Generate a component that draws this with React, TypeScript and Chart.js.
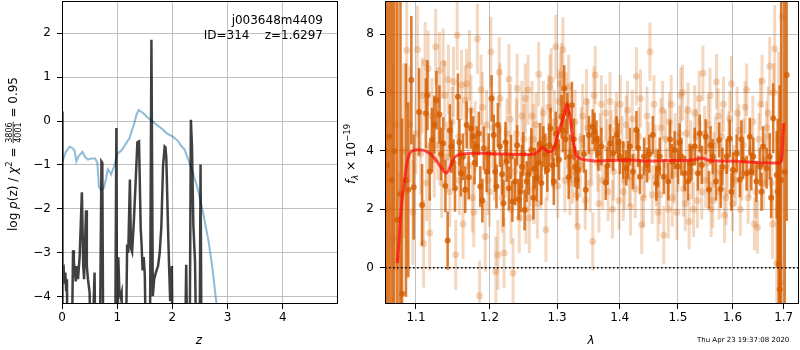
import React, { useEffect, useRef } from "react";
import { Chart, registerables } from "chart.js";
Chart.register(...registerables);

const FONT = '"DejaVu Sans", sans-serif';

// ---------------- left panel: redshift probability ----------------
const zValues = [
  0, 0.005, 0.012, 0.03, 0.045,
  0.06, 0.075, 0.09, 0.1, 0.17,
  0.2, 0.215, 0.23, 0.25, 0.27,
  0.29, 0.32, 0.36, 0.385, 0.4,
  0.435, 0.45, 0.47, 0.5, 0.53,
  0.59, 0.61, 0.68, 0.715, 0.73,
  0.75, 0.96, 0.985, 1.0, 1.02,
  1.04, 1.06, 1.08, 1.1, 1.15,
  1.18, 1.2, 1.23, 1.25, 1.27,
  1.3, 1.33, 1.366, 1.395, 1.426,
  1.44, 1.46, 1.48, 1.5, 1.53,
  1.59, 1.62, 1.645, 1.67, 1.7,
  1.74, 1.77, 1.8, 1.83, 1.86,
  1.875, 1.89, 1.92, 1.94, 1.96,
  1.99, 2.01, 2.22, 2.25, 2.28,
  2.31, 2.335, 2.355, 2.38, 2.41,
  2.44, 2.49, 2.51, 2.53, 5.0,
];
const logPz = [
  -6, 0.22, -3.4, -3.35, -3.7,
  -3.45, -3.85, -3.6, -6, -6,
  -2.94, -3.5, -3.4, -3.65, -3.3,
  -3.6, -3.08, -1.62, -3.3, -3.6,
  -2.03, -3.3, -3.6, -3.9, -6,
  -3.45, -6, -6, -0.92, -0.95,
  -6, -6, -0.16, -6, -3.1,
  -3.9, -4.0, -3.9, -6, -6,
  -2.81, -3.0, -1.33, -2.9, -2.98,
  -2.33, -1.5, -0.48, -0.46, -2.45,
  -2.76, -3.4, -3.1, -3.5, -6,
  -6, 1.85, -3.99, -3.6, -3.45,
  -3.3, -3.0, -2.4, -1.03, -0.58,
  -0.6, -0.85, -2.4, -3.3, -4.1,
  -3.3, -6, -6, -3.27, -6,
  -6, 0.03, -0.6, -2.39, -3.2,
  -6, -6, -0.99, -6, -6,
];
const chiZ = [
  0.0, 0.02, 0.07, 0.14, 0.2,
  0.23, 0.26, 0.3, 0.37, 0.42,
  0.47, 0.53, 0.6, 0.64, 0.67,
  0.7, 0.76, 0.8, 0.83, 0.86,
  0.89, 0.95, 1.01, 1.07, 1.13,
  1.19, 1.22, 1.27, 1.31, 1.35,
  1.39, 1.45, 1.5, 1.55, 1.62,
  1.68, 1.75, 1.83, 1.9, 2.0,
  2.1, 2.15, 2.22, 2.28, 2.35,
  2.45, 2.55, 2.65, 2.72, 2.78,
  2.81,
];
const chiCurve = [
  -0.95, -0.88, -0.7, -0.58, -0.63,
  -0.68, -0.92, -0.8, -0.7, -0.82,
  -0.88, -0.85, -0.85, -0.95, -1.5,
  -1.56, -1.52, -1.3, -1.1, -1.15,
  -1.22, -1.0, -0.73, -0.68, -0.57,
  -0.45, -0.4, -0.2, -0.05, 0.15,
  0.25, 0.2, 0.15, 0.08, 0.02,
  -0.05, -0.12, -0.2, -0.28, -0.35,
  -0.45, -0.55, -0.65, -0.85, -1.1,
  -1.5, -2.05, -2.7, -3.3, -3.95,
  -4.3,
];
const zTicks = [0, 1, 2, 3, 4];
const logPTicks = [-4, -3, -2, -1, 0, 1, 2];
const Z_MIN = 0;
const Z_MAX = 5;
const LOGP_MIN = -4.166;
const LOGP_MAX = 2.734;

// ---------------- right panel: spectrum ----------------
const modelLam = [
  1.0759, 1.078, 1.080, 1.082, 1.0845,
  1.088, 1.092, 1.097, 1.103, 1.109,
  1.114, 1.12, 1.126, 1.132, 1.137,
  1.1395, 1.143, 1.147, 1.151, 1.156,
  1.162, 1.17, 1.18, 1.19, 1.2,
  1.21, 1.22, 1.23, 1.24, 1.25,
  1.26, 1.268, 1.273, 1.277, 1.281,
  1.2865, 1.291, 1.295, 1.299, 1.303,
  1.307, 1.311, 1.3156, 1.319, 1.322,
  1.326, 1.3315, 1.3477, 1.36, 1.38,
  1.4, 1.42, 1.44, 1.46, 1.48,
  1.5, 1.52, 1.535, 1.542, 1.549,
  1.556, 1.57, 1.59, 1.61, 1.63,
  1.65, 1.67, 1.685, 1.6925, 1.697,
  1.6985, 1.7,
];
const modelFlux = [
  0.16, 0.9, 1.7, 2.3, 2.8,
  3.55, 3.92, 4.02, 4.04, 4.03,
  3.98, 3.88, 3.7, 3.48, 3.3,
  3.24, 3.32, 3.55, 3.76, 3.86,
  3.9, 3.91, 3.92, 3.92, 3.91,
  3.9, 3.9, 3.89, 3.88, 3.88,
  3.88, 3.92, 4.02, 4.12, 4.07,
  3.97, 3.98, 4.1, 4.35, 4.7,
  4.95, 5.25, 5.62, 5.3, 4.8,
  4.2, 3.8, 3.69, 3.66, 3.67,
  3.68, 3.68, 3.66, 3.66, 3.67,
  3.67, 3.68, 3.72, 3.76, 3.73,
  3.67, 3.66, 3.66, 3.65, 3.62,
  3.6, 3.59, 3.59, 3.6, 3.9,
  4.5, 4.95,
];

const darkLam = [
  1.060, 1.063, 1.066, 1.069, 1.072,
  1.076, 1.080, 1.082, 1.087, 1.090,
  1.094, 1.097, 1.104, 1.108, 1.113,
  1.115, 1.121, 1.127, 1.131, 1.136,
  1.142, 1.147, 1.152, 1.156, 1.160,
  1.166, 1.168, 1.174, 1.177, 1.182,
  1.187, 1.192, 1.196, 1.203, 1.206,
  1.210, 1.215, 1.220, 1.225, 1.228,
  1.233, 1.237, 1.242, 1.247, 1.251,
  1.254, 1.261, 1.266, 1.269, 1.274,
  1.279, 1.285, 1.290, 1.295, 1.300,
  1.307, 1.311, 1.316, 1.320, 1.323,
  1.328, 1.333, 1.345, 1.350, 1.356,
  1.359, 1.365, 1.370, 1.377, 1.384,
  1.389, 1.395, 1.400, 1.406, 1.411,
  1.417, 1.422, 1.428, 1.434, 1.441,
  1.446, 1.456, 1.462, 1.468, 1.475,
  1.483, 1.489, 1.494, 1.500, 1.506,
  1.512, 1.518, 1.524, 1.530, 1.536,
  1.543, 1.550, 1.556, 1.563, 1.569,
  1.575, 1.581, 1.589, 1.595, 1.601,
  1.608, 1.614, 1.620, 1.627, 1.633,
  1.640, 1.646, 1.653, 1.659, 1.666,
  1.672, 1.679, 1.686, 1.688, 1.690,
  1.692, 1.695, 1.702, 1.706, 1.118,
  1.124, 1.133, 1.139, 1.145, 1.150,
  1.158, 1.163, 1.171, 1.179, 1.185,
  1.190, 1.199, 1.208, 1.212, 1.218,
  1.223, 1.231, 1.240, 1.245, 1.249,
  1.257, 1.264, 1.271, 1.276, 1.282,
  1.288, 1.293, 1.298, 1.303, 1.309,
  1.313, 1.318, 1.326, 1.331, 1.342,
  1.362, 1.380, 1.398, 1.414, 1.431,
  1.450, 1.465, 1.486, 1.503, 1.521,
  1.539, 1.559, 1.578, 1.598, 1.617,
  1.636, 1.656, 1.675,
];
const darkFlux = [
  4.0, 3.5, 4.5, 3.0, 4.0,
  1.64, 2.53, -0.89, 3.0, 2.67,
  6.43, 2.76, 5.34, 2.15, 5.29,
  5.91, 4.38, 5.74, 5.25, 4.26,
  0.93, 4.15, 2.72, 5.86, 3.24,
  2.67, 4.89, 4.77, 4.49, 4.15,
  2.78, 4.09, 3.29, 5.80, 4.55,
  2.78, 4.15, 2.21, 3.64, 2.72,
  2.27, 2.95, 2.35, 3.46, 1.98,
  2.95, 4.03, 3.41, 3.07, 4.26,
  4.15, 3.35, 4.77, 2.95, 4.15,
  5.17, 6.14, 5.29, 3.81, 5.57,
  3.46, 3.35, 2.67, 4.55, 4.83,
  4.66, 3.92, 4.15, 2.92, 4.26,
  3.92, 4.55, 3.81, 3.69, 3.41,
  4.15, 3.29, 4.72, 3.12, 3.81,
  3.52, 4.55, 2.89, 3.81, 3.12,
  2.95, 3.64, 4.03, 3.46, 3.81,
  3.24, 2.95, 3.58, 4.15, 3.24,
  3.52, 4.49, 2.67, 3.81, 2.95,
  4.38, 3.46, 3.81, 4.43, 3.35,
  3.92, 3.01, 3.69, 3.24, 4.49,
  3.81, 2.95, 3.46, 4.15, 3.41,
  3.81, 5.12, 3.18, 2.61, 0.10,
  -0.75, 3.0, 3.29, 6.6, 3.3,
  4.9, 3.9, 2.8, 4.7, 3.6,
  4.3, 3.8, 3.1, 3.6, 4.6,
  2.3, 3.9, 3.3, 4.9, 3.2,
  4.3, 3.8, 4.2, 2.6, 3.9,
  3.2, 2.4, 3.6, 2.9, 3.9,
  4.2, 3.5, 4.6, 3.7, 4.7,
  4.4, 3.1, 4.4, 3.0, 3.9,
  4.4, 3.5, 4.3, 3.7, 4.1,
  3.9, 3.4, 4.4, 4.3, 3.6,
  4.6, 4.2, 2.7, 2.6, 4.4,
  3.3, 2.6, 2.4,
];
const darkErr = [
  12, 12, 12, 12, 12,
  10, 8, 6, 4, 3,
  2.2, 1.8, 1.5, 1.4, 1.2,
  1.2, 1.1, 1.0, 1.0, 0.9,
  1.0, 0.9, 0.8, 0.8, 0.8,
  0.8, 0.8, 0.7, 0.7, 0.7,
  0.7, 0.75, 0.7, 0.8, 0.7,
  0.75, 0.7, 0.8, 0.7, 0.75,
  0.7, 0.8, 0.7, 0.75, 0.7,
  0.7, 0.75, 0.7, 0.8, 0.7,
  0.7, 0.75, 0.7, 0.8, 0.7,
  0.75, 0.8, 0.7, 0.75, 0.8,
  0.7, 0.65, 0.7, 0.65, 0.6,
  0.65, 0.6, 0.65, 0.6, 0.65,
  0.6, 0.65, 0.6, 0.65, 0.6,
  0.65, 0.6, 0.65, 0.6, 0.65,
  0.6, 0.65, 0.6, 0.65, 0.6,
  0.65, 0.6, 0.65, 0.6, 0.65,
  0.6, 0.65, 0.6, 0.65, 0.6,
  0.65, 0.6, 0.65, 0.6, 0.65,
  0.6, 0.65, 0.6, 0.65, 0.6,
  0.65, 0.6, 0.65, 0.6, 0.65,
  0.65, 0.7, 0.65, 0.7, 0.7,
  0.8, 1.2, 1.5, 2.5, 4,
  7, 10, 6, 5, 1.0,
  1.0, 0.9, 0.9, 0.9, 0.8,
  0.8, 0.8, 0.75, 0.75, 0.75,
  0.75, 0.7, 0.7, 0.75, 0.7,
  0.7, 0.75, 0.7, 0.7, 0.75,
  0.7, 0.75, 0.7, 0.75, 0.7,
  0.75, 0.7, 0.75, 0.7, 0.75,
  0.7, 0.75, 0.7, 0.7, 0.65,
  0.65, 0.65, 0.65, 0.65, 0.65,
  0.65, 0.65, 0.65, 0.65, 0.65,
  0.65, 0.65, 0.65, 0.65, 0.65,
  0.65, 0.65, 0.7,
];

const lightLam = [
  1.061, 1.064, 1.068, 1.071, 1.074,
  1.078, 1.084, 1.088, 1.092, 1.096,
  1.102, 1.106, 1.110, 1.112, 1.116,
  1.118, 1.124, 1.126, 1.131, 1.134,
  1.138, 1.143, 1.145, 1.150, 1.153,
  1.155, 1.158, 1.161, 1.163, 1.166,
  1.170, 1.172, 1.176, 1.180, 1.183,
  1.186, 1.190, 1.194, 1.198, 1.202,
  1.205, 1.209, 1.212, 1.215, 1.218,
  1.221, 1.225, 1.228, 1.231, 1.234,
  1.237, 1.240, 1.243, 1.247, 1.250,
  1.253, 1.256, 1.259, 1.262, 1.265,
  1.268, 1.272, 1.275, 1.279, 1.283,
  1.287, 1.291, 1.294, 1.298, 1.301,
  1.305, 1.309, 1.312, 1.316, 1.320,
  1.324, 1.328, 1.332, 1.336, 1.340,
  1.344, 1.348, 1.352, 1.356, 1.360,
  1.364, 1.368, 1.372, 1.377, 1.381,
  1.386, 1.390, 1.395, 1.399, 1.404,
  1.408, 1.413, 1.418, 1.423, 1.428,
  1.432, 1.437, 1.442, 1.446, 1.451,
  1.455, 1.460, 1.465, 1.470, 1.475,
  1.480, 1.485, 1.490, 1.495, 1.500,
  1.505, 1.510, 1.515, 1.520, 1.525,
  1.530, 1.535, 1.540, 1.545, 1.550,
  1.555, 1.560, 1.565, 1.570, 1.575,
  1.580, 1.585, 1.590, 1.595, 1.600,
  1.606, 1.612, 1.618, 1.624, 1.630,
  1.636, 1.642, 1.648, 1.654, 1.660,
  1.666, 1.672, 1.678, 1.682, 1.686,
  1.690, 1.694, 1.697, 1.100, 1.108,
  1.114, 1.121, 1.129, 1.136, 1.141,
  1.148, 1.157, 1.168, 1.174, 1.178,
  1.188, 1.196, 1.200, 1.207, 1.214,
  1.223, 1.230, 1.239, 1.245, 1.252,
  1.258, 1.264, 1.270, 1.277, 1.285,
  1.289, 1.296, 1.303, 1.307, 1.314,
  1.318, 1.322, 1.330, 1.338, 1.346,
  1.354, 1.358, 1.366, 1.370, 1.379,
  1.384, 1.388, 1.393, 1.401, 1.406,
  1.411, 1.416, 1.421, 1.426, 1.435,
  1.440, 1.449, 1.458, 1.462, 1.468,
  1.473, 1.478, 1.483, 1.488, 1.493,
  1.498, 1.503, 1.508, 1.513, 1.518,
  1.523, 1.528, 1.533, 1.538, 1.543,
  1.548, 1.553, 1.558, 1.563, 1.568,
  1.573, 1.578, 1.583, 1.588, 1.593,
  1.598, 1.603, 1.609, 1.615, 1.621,
  1.627, 1.633, 1.639, 1.645, 1.651,
  1.657, 1.663, 1.669, 1.675, 1.680,
];
const lightFlux = [
  5.0, 2.0, 6.0, 1.0, 4.9,
  0.3, 4.0, 7.45, 4.9, 1.9,
  7.48, 3.9, 0.82, 7.02, 6.83,
  1.19, 3.7, 7.57, 6.77, 2.9,
  5.9, 6.45, 2.6, 6.37, 0.44,
  7.97, 3.0, 6.26, 1.5, 5.74,
  3.5, 6.94, 2.4, 4.5, 7.85,
  -0.96, 5.5, 1.07, 3.0, 7.4,
  4.8, -0.13, 0.44, 5.8, 2.4,
  0.5, 4.6, 6.46, 2.0, -0.18,
  3.3, 6.14, 1.7, 5.2, 4.4,
  2.0, 6.1, 3.3, 5.2, 2.7,
  4.9, 6.63, 3.1, 5.3, 1.3,
  5.5, 6.43, 3.8, 7.57, 2.8,
  6.3, 7.48, 3.0, 4.5, 2.9,
  3.3, 5.0, 1.41, 3.5, 5.2,
  2.3, 4.8, 2.9, 0.9, 6.6,
  3.6, 4.3, 3.0, 5.3, 2.6,
  4.4, 3.3, 5.0, 2.3, 4.2,
  3.0, 5.4, 2.1, 3.8, 6.56,
  4.5, 1.47, 3.4, 5.2, 7.4,
  2.5, 3.9, 1.9, 4.8, 1.11,
  3.1, 5.0, 2.4, 4.3, 3.6,
  5.91, 2.7, 4.6, 1.58, 3.3,
  5.3, 2.3, 4.1, 6.66, 3.0,
  4.9, 2.0, 3.7, 6.37, 2.6,
  4.5, 1.8, 3.4, 5.1, 2.2,
  3.0, 4.7, 3.2, 5.5, 2.4,
  4.0, 1.5, 1.39, 5.6, 2.9,
  4.8, 6.9, 1.5, 7.5, 0.16,
  4.4, -0.5, 8.6, 4.6, 5.9,
  2.9, 5.2, 4.2, 7.0, 3.8,
  5.0, 4.5, 6.3, 5.4, 1.9,
  6.1, 4.9, 2.6, 3.5, 6.7,
  3.6, 5.1, 4.6, 2.8, 5.8,
  1.7, 4.4, 2.2, 4.4, 3.4,
  6.2, 5.0, 5.7, 6.6, 5.6,
  6.2, 4.0, 2.5, 4.4, 5.7,
  4.0, 5.9, 2.2, 5.6, 4.1,
  5.7, 2.0, 4.7, 5.6, 2.6,
  4.9, 3.1, 5.1, 2.7, 5.8,
  2.4, 4.0, 5.6, 3.1, 2.5,
  5.4, 4.4, 2.0, 5.6, 3.2,
  1.9, 4.6, 6.0, 2.2, 5.4,
  4.1, 2.0, 4.5, 5.8, 2.6,
  4.6, 3.6, 5.9, 2.3, 4.2,
  5.2, 3.3, 5.6, 2.4, 4.4,
  6.3, 3.3, 5.3, 2.0, 4.2,
  6.1, 3.3, 5.0, 2.6, 4.4,
  6.4, 3.7, 5.3, 2.9, 6.0,
];
const lightErr = [
  6, 7, 6, 6, 5,
  3, 3, 2, 2, 1.8,
  1.5, 1.4, 1.5, 1.4, 1.3,
  1.3, 1.3, 1.3, 1.3, 1.2,
  1.2, 1.2, 1.2, 1.2, 1.2,
  1.2, 1.2, 1.2, 1.2, 1.2,
  1.2, 1.2, 1.2, 1.2, 1.2,
  1.2, 1.2, 1.2, 1.2, 1.2,
  1.2, 1.2, 1.2, 1.2, 1.2,
  1.2, 1.2, 1.2, 1.2, 1.2,
  1.2, 1.2, 1.2, 1.2, 1.2,
  1.2, 1.2, 1.2, 1.2, 1.2,
  1.1, 1.1, 1.1, 1.1, 1.1,
  1.1, 1.1, 1.1, 1.1, 1.1,
  1.1, 1.1, 1.1, 1.1, 1.1,
  1.1, 1.1, 1.1, 1.1, 1.1,
  1.0, 1.0, 1.0, 1.0, 1.0,
  1.0, 1.0, 1.0, 1.0, 1.0,
  1.0, 1.0, 1.0, 1.0, 1.0,
  1.0, 1.0, 1.0, 1.0, 1.0,
  1.0, 1.0, 1.0, 1.0, 1.0,
  1.0, 1.0, 1.0, 1.0, 1.0,
  1.0, 1.0, 1.0, 1.0, 1.0,
  0.95, 0.95, 0.95, 0.95, 0.95,
  0.95, 0.95, 0.95, 0.95, 0.95,
  0.95, 0.95, 0.95, 0.95, 0.95,
  0.95, 0.95, 0.95, 0.95, 0.95,
  0.9, 0.9, 0.9, 0.9, 0.9,
  0.9, 0.9, 0.9, 0.9, 0.9,
  0.9, 1.0, 1.2, 1.5, 2,
  3, 4, 5, 1.4, 1.3,
  1.3, 1.3, 1.2, 1.2, 1.2,
  1.2, 1.2, 1.2, 1.2, 1.2,
  1.2, 1.2, 1.2, 1.2, 1.2,
  1.2, 1.2, 1.2, 1.2, 1.2,
  1.2, 1.2, 1.2, 1.1, 1.1,
  1.1, 1.1, 1.1, 1.1, 1.1,
  1.1, 1.1, 1.1, 1.1, 1.1,
  1.0, 1.0, 1.0, 1.0, 1.0,
  1.0, 1.0, 1.0, 1.0, 1.0,
  1.0, 1.0, 1.0, 1.0, 1.0,
  1.0, 1.0, 1.0, 1.0, 1.0,
  1.0, 1.0, 1.0, 1.0, 1.0,
  0.95, 0.95, 0.95, 0.95, 0.95,
  0.95, 0.95, 0.95, 0.95, 0.95,
  0.95, 0.95, 0.95, 0.95, 0.95,
  0.95, 0.95, 0.95, 0.95, 0.95,
  0.95, 0.9, 0.9, 0.9, 0.9,
  0.9, 0.9, 0.9, 0.9, 0.9,
  0.9, 0.9, 0.9, 0.9, 1.0,
];
const lamTicks = [1.1, 1.2, 1.3, 1.4, 1.5, 1.6, 1.7];
const fluxTicks = [0, 2, 4, 6, 8];
const LAM_MIN = 1.0604;
const LAM_MAX = 1.7311;
const FLUX_MIN = -1.244;
const FLUX_MAX = 9.14;

const zeroLevel = [0, 0];
const objectName = "j003648m4409";
const objectInfo = "ID=314    z=1.6297";
const timestamp = "Thu Apr 23 19:37:08 2020";

// ---------------- helpers ----------------
const zip = (xs: number[], ys: number[]) => xs.map((x, i) => ({ x, y: ys[i] }));
const fmtMinus = (v: any) => {
  const n = Number(v);
  return n < 0 ? "\u2212" + String(Math.abs(n)) : String(n);
};

const DARK = "rgba(213,94,0,0.8)";
const LIGHT = "rgba(213,94,0,0.25)";

type Part = { t?: string; f: string; dy?: number; frac?: [string, string] };

function drawRotatedParts(ctx: CanvasRenderingContext2D, parts: Part[], x: number, y: number) {
  ctx.save();
  ctx.translate(x, y);
  ctx.rotate(-Math.PI / 2);
  ctx.fillStyle = "#000";
  ctx.strokeStyle = "#000";
  ctx.textBaseline = "alphabetic";
  ctx.textAlign = "left";
  const widths = parts.map((p) => {
    ctx.font = p.f;
    if (p.frac) return Math.max(ctx.measureText(p.frac[0]).width, ctx.measureText(p.frac[1]).width) + 2;
    return ctx.measureText(p.t || "").width;
  });
  const total = widths.reduce((a, b) => a + b, 0);
  let cx = -total / 2;
  parts.forEach((p, i) => {
    ctx.font = p.f;
    if (p.frac) {
      const w = widths[i];
      ctx.textAlign = "center";
      ctx.fillText(p.frac[0], cx + w / 2, -5.5);
      ctx.fillText(p.frac[1], cx + w / 2, 4.2);
      ctx.textAlign = "left";
      ctx.lineWidth = 0.8;
      ctx.beginPath();
      ctx.moveTo(cx + 0.5, -3.8);
      ctx.lineTo(cx + w - 0.5, -3.8);
      ctx.stroke();
    } else {
      ctx.fillText(p.t || "", cx, p.dy || 0);
    }
    cx += widths[i];
  });
  ctx.restore();
}

const framePlugin = {
  id: "frame",
  afterDatasetsDraw(chart: any) {
    const { ctx, chartArea: a } = chart;
    ctx.save();
    ctx.strokeStyle = "#000";
    ctx.lineWidth = 1;
    ctx.strokeRect(Math.round(a.left) + 0.5, Math.round(a.top) + 0.5, Math.round(a.right - a.left) - 1, Math.round(a.bottom - a.top) - 1);
    ctx.restore();
  },
};

const errorBarPlugin = {
  id: "errbars",
  beforeDatasetDraw(chart: any, args: any) {
    const ds = chart.data.datasets[args.index];
    if (!ds.errors) return;
    const { ctx, chartArea: a, scales } = chart;
    ctx.save();
    ctx.beginPath();
    ctx.rect(a.left, a.top, a.right - a.left, a.bottom - a.top);
    ctx.clip();
    ctx.strokeStyle = ds.errColor;
    ctx.lineWidth = ds.errWidth;
    ds.data.forEach((p: any, i: number) => {
      const e = ds.errors[i];
      const px = scales.x.getPixelForValue(p.x);
      const y1 = scales.y.getPixelForValue(p.y - e);
      const y2 = scales.y.getPixelForValue(p.y + e);
      ctx.beginPath();
      ctx.moveTo(px, y1);
      ctx.lineTo(px, y2);
      ctx.stroke();
    });
    ctx.restore();
  },
};

const gridOpts = { color: "#b0b0b0", lineWidth: 0.8, tickColor: "#000", tickLength: 5, tickWidth: 1 };
const tickFont = { family: FONT, size: 12 };

function fixedX(height: number) {
  return (s: any) => {
    s.height = height;
    s.paddingLeft = 0;
    s.paddingRight = 0;
  };
}
function fixedY(width: number) {
  return (s: any) => {
    s.width = width;
    s.paddingTop = 0;
    s.paddingBottom = 0;
  };
}

export default function App() {
  const leftRef = useRef<HTMLCanvasElement>(null);
  const rightRef = useRef<HTMLCanvasElement>(null);

  useEffect(() => {
    Chart.defaults.font.family = FONT;
    Chart.defaults.font.size = 12;
    Chart.defaults.color = "#000";

    const leftDecor = {
      id: "leftDecor",
      afterDraw(chart: any) {
        const ctx = chart.ctx as CanvasRenderingContext2D;
        ctx.save();
        ctx.fillStyle = "#000";
        ctx.font = `12px ${FONT}`;
        ctx.textAlign = "right";
        ctx.textBaseline = "alphabetic";
        ctx.fillText(objectName, 323, 24);
        ctx.fillText(objectInfo, 323, 39);
        ctx.textAlign = "center";
        ctx.font = `italic 12px ${FONT}`;
        ctx.fillText("z", 199, 344);
        ctx.restore();
        drawRotatedParts(
          ctx,
          [
            { t: "log ", f: `12px ${FONT}` },
            { t: "p", f: `italic 12px ${FONT}` },
            { t: "(z) / ", f: `12px ${FONT}` },
            { t: "\u03c7", f: `italic 12px ${FONT}` },
            { t: "2", f: `8.5px ${FONT}`, dy: -5 },
            { t: " = ", f: `12px ${FONT}` },
            { frac: ["3806", "4001"], f: `8px ${FONT}` },
            { t: " = 0.95", f: `12px ${FONT}` },
          ],
          17,
          154
        );
      },
    };

    const rightDecor = {
      id: "rightDecor",
      afterDraw(chart: any) {
        const ctx = chart.ctx as CanvasRenderingContext2D;
        ctx.save();
        ctx.fillStyle = "#000";
        ctx.textBaseline = "alphabetic";
        ctx.textAlign = "center";
        ctx.font = `italic 12px ${FONT}`;
        ctx.fillText("\u03bb", 251, 344);
        ctx.font = `7px ${FONT}`;
        ctx.textAlign = "left";
        ctx.fillText(timestamp, 357, 342);
        ctx.restore();
        drawRotatedParts(
          ctx,
          [
            { t: "f", f: `italic 12px ${FONT}` },
            { t: "\u03bb", f: `italic 8.5px ${FONT}`, dy: 2.5 },
            { t: " \u00d7 10", f: `12px ${FONT}` },
            { t: "\u221219", f: `8.5px ${FONT}`, dy: -5.5 },
          ],
          15,
          154
        );
      },
    };

    const left = new Chart(leftRef.current as HTMLCanvasElement, {
      type: "line",
      data: {
        datasets: [
          {
            data: zip(zValues, logPz),
            borderColor: "rgba(0,0,0,0.75)",
            borderWidth: 2.5,
            pointRadius: 0,
            tension: 0,
            clip: 0,
            order: 0,
          } as any,
          {
            data: zip(chiZ, chiCurve),
            borderColor: "rgba(31,119,180,0.5)",
            borderWidth: 2,
            pointRadius: 0,
            tension: 0,
            clip: 0,
            order: 1,
          } as any,
        ],
      },
      options: {
        responsive: false,
        devicePixelRatio: 1,
        animation: false,
        events: [],
        layout: { autoPadding: false, padding: { left: 0, top: 1, right: 2, bottom: 0 } },
        plugins: { legend: { display: false }, tooltip: { enabled: false } },
        scales: {
          x: {
            type: "linear",
            min: Z_MIN,
            max: Z_MAX,
            afterBuildTicks: (s: any) => {
              s.ticks = zTicks.map((v) => ({ value: v }));
            },
            afterFit: fixedX(46),
            grid: gridOpts,
            border: { display: false },
            ticks: { color: "#000", font: tickFont, padding: 2, maxRotation: 0, autoSkip: false, callback: fmtMinus },
          },
          y: {
            type: "linear",
            min: LOGP_MIN,
            max: LOGP_MAX,
            afterBuildTicks: (s: any) => {
              s.ticks = logPTicks.map((v) => ({ value: v }));
            },
            afterFit: fixedY(62),
            grid: gridOpts,
            border: { display: false },
            ticks: { color: "#000", font: tickFont, padding: 6, autoSkip: false, callback: fmtMinus },
          },
        },
      } as any,
      plugins: [framePlugin, leftDecor],
    });

    const right = new Chart(rightRef.current as HTMLCanvasElement, {
      type: "scatter",
      data: {
        datasets: [
          {
            type: "line",
            data: zip([LAM_MIN, LAM_MAX], zeroLevel),
            borderColor: "#000",
            borderWidth: 1.6,
            borderDash: [1.6, 2.4],
            pointRadius: 0,
            clip: 0,
            order: 0,
          },
          {
            type: "line",
            data: zip(modelLam, modelFlux),
            borderColor: "rgba(255,10,10,0.7)",
            borderWidth: 3,
            pointRadius: 0,
            cubicInterpolationMode: "monotone",
            clip: 0,
            order: 1,
          },
          {
            type: "scatter",
            data: zip(darkLam, darkFlux),
            errors: darkErr,
            errColor: DARK,
            errWidth: 2.6,
            backgroundColor: DARK,
            pointRadius: 3,
            pointBorderWidth: 0,
            clip: 0,
            order: 2,
          },
          {
            type: "scatter",
            data: zip(lightLam, lightFlux),
            errors: lightErr,
            errColor: LIGHT,
            errWidth: 3,
            backgroundColor: LIGHT,
            pointRadius: 3.5,
            pointBorderWidth: 0,
            clip: 0,
            order: 3,
          },
        ] as any,
      },
      options: {
        responsive: false,
        devicePixelRatio: 1,
        animation: false,
        events: [],
        layout: { autoPadding: false, padding: { left: 0, top: 1, right: 1, bottom: 0 } },
        plugins: { legend: { display: false }, tooltip: { enabled: false } },
        scales: {
          x: {
            type: "logarithmic",
            min: LAM_MIN,
            max: LAM_MAX,
            afterBuildTicks: (s: any) => {
              s.ticks = lamTicks.map((v) => ({ value: v }));
            },
            afterFit: fixedX(46),
            grid: gridOpts,
            border: { display: false },
            ticks: { color: "#000", font: tickFont, padding: 2, maxRotation: 0, autoSkip: false, callback: (v: any) => Number(v).toFixed(1) },
          },
          y: {
            type: "linear",
            min: FLUX_MIN,
            max: FLUX_MAX,
            afterBuildTicks: (s: any) => {
              s.ticks = fluxTicks.map((v) => ({ value: v }));
            },
            afterFit: fixedY(45),
            grid: gridOpts,
            border: { display: false },
            ticks: { color: "#000", font: tickFont, padding: 6, autoSkip: false, callback: fmtMinus },
          },
        },
      } as any,
      plugins: [errorBarPlugin, framePlugin, rightDecor],
    });

    return () => {
      left.destroy();
      right.destroy();
    };
  }, []);

  return (
    <div style={{ position: "fixed", left: 0, top: 0, width: 800, height: 350, background: "#fff" }}>
      <canvas ref={leftRef} width={340} height={350} style={{ position: "absolute", left: 0, top: 0, width: 340, height: 350 }} />
      <canvas ref={rightRef} width={460} height={350} style={{ position: "absolute", left: 340, top: 0, width: 460, height: 350 }} />
    </div>
  );
}
